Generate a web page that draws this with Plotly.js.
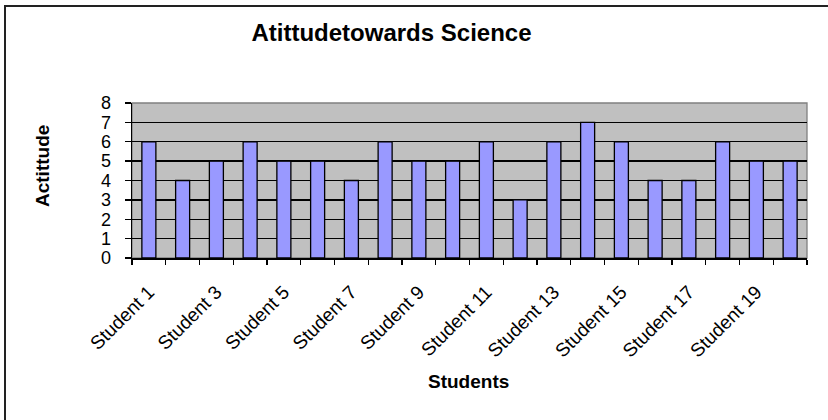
<!DOCTYPE html>
<html>
<head>
<meta charset="utf-8">
<script src="https://cdn.plot.ly/plotly-3.0.1.min.js"></script>
<style>
  html, body { margin: 0; padding: 0; background: #ffffff; }
  #chart { width: 828px; height: 420px; }
</style>
</head>
<body>
<div id="chart"></div>
<script>
// Attitude score per student
const students = [
  "Student 1", "Student 2", "Student 3", "Student 4", "Student 5",
  "Student 6", "Student 7", "Student 8", "Student 9", "Student 10",
  "Student 11", "Student 12", "Student 13", "Student 14", "Student 15",
  "Student 16", "Student 17", "Student 18", "Student 19", "Student 20"
];
const attitude = [6, 4, 5, 6, 5, 5, 4, 6, 5, 5, 6, 3, 6, 7, 6, 4, 4, 6, 5, 5];

// Only every other student is labelled on the axis
const tickLabels = students.map((s, i) => (i % 2 === 0 ? s : ""));
const yTicks = [0, 1, 2, 3, 4, 5, 6, 7, 8];

// Plot-area geometry in pixels (used to place titles and frame)
const W = 828, H = 420;
const M = { l: 132, r: 21, t: 103, b: 162 };
const pw = W - M.l - M.r, ph = H - M.t - M.b;
const px = x => (x - M.l) / pw;
const py = y => (H - M.b - y) / ph;

const trace = {
  type: "bar",
  x: students,
  y: attitude,
  marker: { color: "#9999ff", line: { color: "#000000", width: 1.3 } },
  hoverinfo: "x+y"
};

const layout = {
  width: W,
  height: H,
  margin: M,
  paper_bgcolor: "#ffffff",
  plot_bgcolor: "#c0c0c0",
  bargap: 0.585,
  showlegend: false,
  font: { family: "Liberation Sans, Arial, sans-serif", color: "#000000", size: 17 },
  title: {
    text: "<b>Atittudetowards Science</b>",
    font: { family: "Liberation Sans, Arial, sans-serif", size: 24, color: "#000000" },
    xref: "container", yref: "container",
    x: 391.5 / W, y: 1 - 33 / H,
    xanchor: "center", yanchor: "middle"
  },
  xaxis: {
    type: "category",
    tickvals: students,
    ticktext: tickLabels,
    tickangle: -45,
    tickson: "boundaries",
    ticks: "outside",
    ticklen: 5,
    tickwidth: 1.3,
    tickcolor: "#000000",
    ticklabelstandoff: 14,
    tickfont: { size: 19 },
    showline: true,
    linecolor: "#000000",
    linewidth: 1.5,
    showgrid: false,
    zeroline: false,
    fixedrange: true
  },
  yaxis: {
    range: [0, 8],
    tickvals: yTicks,
    ticktext: yTicks.map(String),
    ticks: "outside",
    ticklen: 6,
    tickwidth: 1.3,
    tickcolor: "#000000",
    ticklabelstandoff: 10,
    tickfont: { size: 18 },
    showline: true,
    linecolor: "#000000",
    linewidth: 1.5,
    showgrid: true,
    gridcolor: "#000000",
    gridwidth: 1.3,
    zeroline: false,
    fixedrange: true
  },
  annotations: [
    {
      text: "<b>Actittude</b>",
      xref: "paper", yref: "paper",
      x: px(42), y: py(166),
      xanchor: "center", yanchor: "middle",
      textangle: -90,
      showarrow: false,
      font: { size: 19, color: "#000000" }
    },
    {
      text: "<b>Students</b>",
      xref: "paper", yref: "paper",
      x: px(468.5), y: py(381),
      xanchor: "center", yanchor: "middle",
      showarrow: false,
      font: { size: 19, color: "#000000" }
    }
  ],
  shapes: [
    // grey plot-area border (covers the top gridline)
    {
      type: "rect", xref: "paper", yref: "paper",
      x0: 0, x1: 1, y0: 0, y1: 1,
      layer: "between",
      line: { color: "#808080", width: 1.3 },
      fillcolor: "rgba(0,0,0,0)"
    },
    // outer chart frame
    {
      type: "rect", xref: "paper", yref: "paper",
      x0: px(5), x1: px(830), y0: py(423), y1: py(6),
      layer: "above",
      line: { color: "#222222", width: 2 },
      fillcolor: "rgba(0,0,0,0)"
    }
  ]
};

Plotly.newPlot("chart", [trace], layout, { displayModeBar: false, staticPlot: true });
</script>
</body>
</html>
